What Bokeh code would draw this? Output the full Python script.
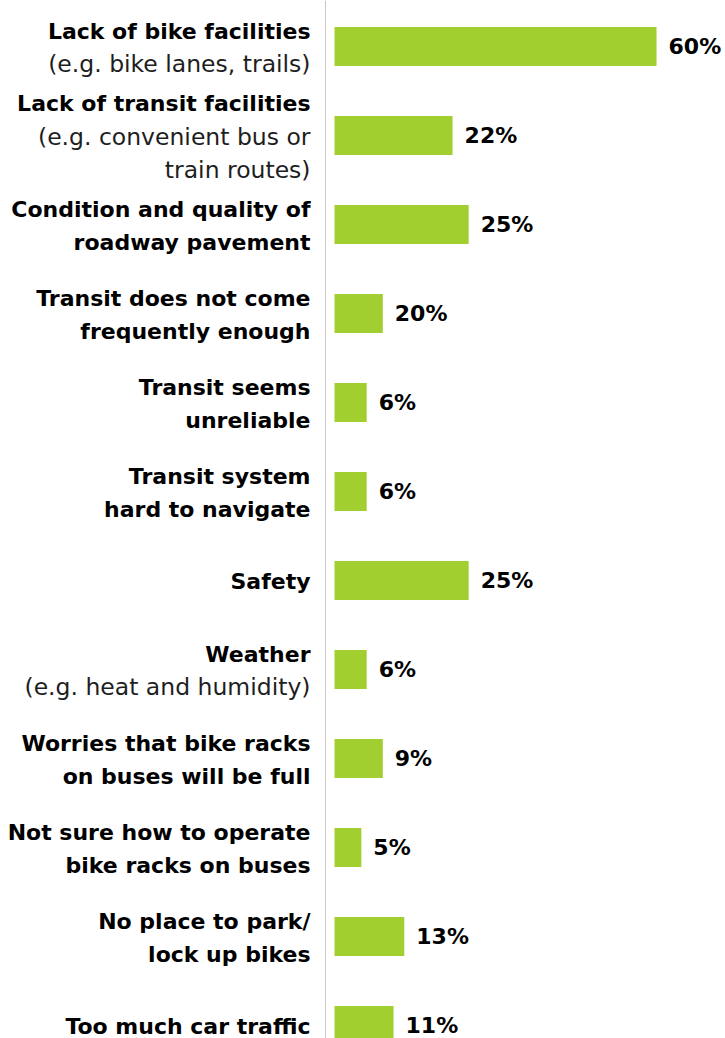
from bokeh.plotting import figure
from bokeh.models import ColumnDataSource, Range1d, Span
from bokeh.core.properties import value
from bokeh.embed import file_html
from bokeh.resources import INLINE

# ---- data ----
bold_lines = [
    ["Lack of bike facilities"],
    ["Lack of transit facilities"],
    ["Condition and quality of", "roadway pavement"],
    ["Transit does not come", "frequently enough"],
    ["Transit seems", "unreliable"],
    ["Transit system", "hard to navigate"],
    ["Safety"],
    ["Weather"],
    ["Worries that bike racks", "on buses will be full"],
    ["Not sure how to operate", "bike racks on buses"],
    ["No place to park/", "lock up bikes"],
    ["Too much car traffic"],
]
note_lines = [
    ["(e.g. bike lanes, trails)"],
    ["(e.g. convenient bus or", "train routes)"],
    [], [], [], [], [],
    ["(e.g. heat and humidity)"],
    [], [], [], [],
]
pct_values = [60, 22, 25, 20, 6, 6, 25, 6, 9, 5, 13, 11]
# bar lengths as drawn in the picture (the 20% bar is drawn at ~9%)
bar_lengths = [60, 22, 25, 9, 6, 6, 25, 6, 9, 5, 13, 11]

BAR_COLOR = "#A1CF30"
FONT = "DejaVu Sans"
W, H = 725, 1038
PX_PER_UNIT = 5.367   # horizontal scale
ROW_PX = 89.0         # vertical scale (px per row)
X0_PX = 334           # pixel of value 0
Y0_PX = 46            # pixel of first row centre
LINE_H = 33

n = len(pct_values)
idx = list(range(n))

p = figure(width=W, height=H, output_backend="svg", toolbar_location=None,
           min_border=0, min_border_left=0, min_border_right=0,
           min_border_top=0, min_border_bottom=0)
p.x_range = Range1d(-X0_PX / PX_PER_UNIT, (W - X0_PX) / PX_PER_UNIT)
p.y_range = Range1d((H - Y0_PX) / ROW_PX, -Y0_PX / ROW_PX)
p.axis.visible = False
p.grid.visible = False
p.outline_line_color = None
p.background_fill_color = "white"
p.border_fill_color = "white"

bars = ColumnDataSource(dict(y=idx, length=bar_lengths,
                             label=[f"{v}%" for v in pct_values]))
p.hbar(y="y", left=0, right="length", height=39 / ROW_PX, source=bars,
       fill_color=BAR_COLOR, line_color=None)

p.text(x="length", y="y", text="label", source=bars, x_offset=12,
       text_font=value(FONT), text_font_style="bold",
       text_font_size="22px", text_color="#000000",
       text_align="left", text_baseline="middle")

# category labels: bold lines then regular lines, block centred on the row
bx, by, bt, bo = [], [], [], []
nx, ny, nt, no = [], [], [], []
for i in idx:
    lines = [(t, "b") for t in bold_lines[i]] + [(t, "n") for t in note_lines[i]]
    m = len(lines)
    for k, (t, kind) in enumerate(lines):
        off = (k - (m - 1) / 2) * LINE_H + 1
        if kind == "b":
            bx.append(0); by.append(i); bt.append(t); bo.append(off)
        else:
            nx.append(0); ny.append(i); nt.append(t); no.append(off)

p.text(x="x", y="y", text="text", y_offset="off", x_offset=-24,
       source=ColumnDataSource(dict(x=bx, y=by, text=bt, off=bo)),
       text_font=value(FONT), text_font_style="bold", text_font_size="22px",
       text_color="#000000", text_align="right", text_baseline="middle")
p.text(x="x", y="y", text="text", y_offset="off", x_offset=-24,
       source=ColumnDataSource(dict(x=nx, y=ny, text=nt, off=no)),
       text_font=value(FONT), text_font_style="normal", text_font_size="23.5px",
       text_color="#1e1e1e", text_align="right", text_baseline="middle")

p.add_layout(Span(location=-9 / PX_PER_UNIT, dimension="height",
                  line_color="#c8c8c8", line_width=1))

open("out.html", "w").write(file_html(p, INLINE))
